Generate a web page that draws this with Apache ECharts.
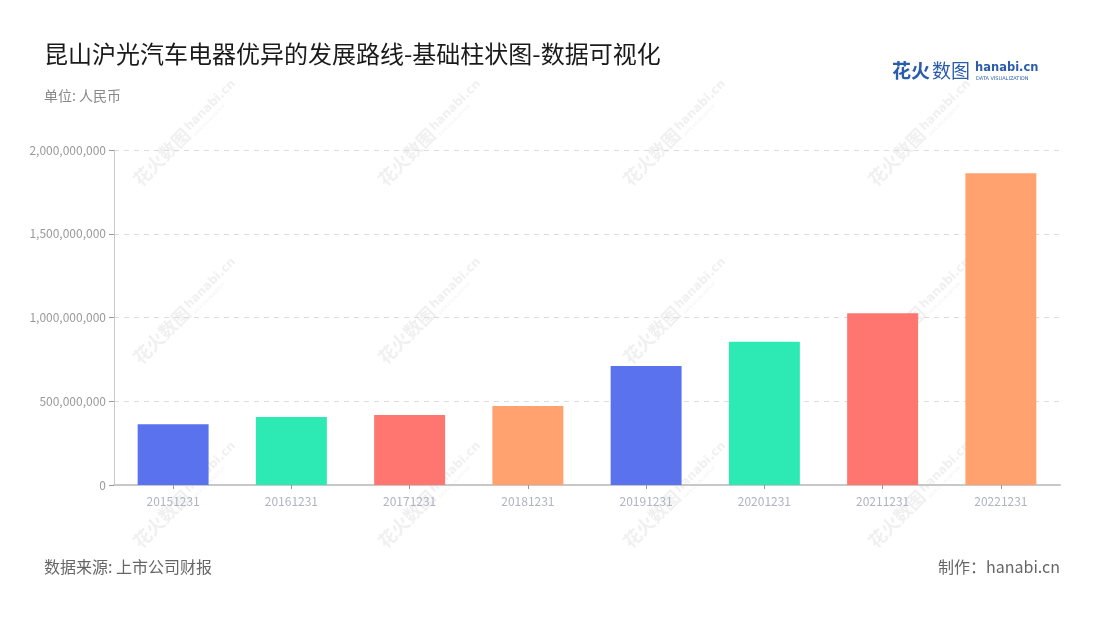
<!DOCTYPE html>
<html>
<head>
<meta charset="utf-8">
<script src="https://cdn.jsdelivr.net/npm/echarts@6/dist/echarts.min.js"></script>
<style>html,body{margin:0;padding:0;background:#fff}#c{width:1100px;height:620px}</style>
</head>
<body>
<div id="c"></div>
<script>
const categories = ['20151231','20161231','20171231','20181231','20191231','20201231','20211231','20221231'];
const values = [362000000, 406000000, 418000000, 472000000, 710000000, 855000000, 1025000000, 1861000000];
const colors = ['#5A72EE','#2DE9B3','#FF7670','#FFA26F','#5A72EE','#2DE9B3','#FF7670','#FFA26F'];

const font = '"Noto Sans CJK SC","Noto Sans",sans-serif';
const wmCols = [182, 427, 672, 917];
const wmRows = [138, 316, 500];
const wmFill = 'rgba(140,140,140,0.13)';
const watermarks = [];
wmRows.forEach(y => wmCols.forEach(x => {
  watermarks.push({
    type:'group', x:x, y:y, rotation:Math.PI/4, z:100, silent:true,
    children:[
      {type:'text', x:-64, y:-10, style:{text:'花火数图', fontSize:18, fontWeight:'bold', fill:wmFill, fontFamily:font}},
      {type:'text', x:10, y:-9, style:{text:'hanabi.cn', fontSize:12, fontWeight:'bold', fill:wmFill, fontFamily:'"DejaVu Sans",sans-serif'}},
      {type:'text', x:11, y:5, style:{text:'DATA VISUALIZATION', fontSize:4, fill:wmFill, fontFamily:'"DejaVu Sans",sans-serif'}}
    ]
  });
}));

const chart = echarts.init(document.getElementById('c'), null, {renderer:'canvas'});
chart.setOption({
  animation:false,
  textStyle:{fontFamily:font},
  title:[
    {text:'昆山沪光汽车电器优异的发展路线-基础柱状图-数据可视化', left:39, top:37,
     textStyle:{fontSize:24, fontWeight:'normal', color:'#1a1a1a', fontFamily:font}},
    {text:'单位: 人民币', left:39, top:84, textStyle:{fontSize:14, fontWeight:'normal', color:'#888', fontFamily:font}},
    {text:'数据来源: 上市公司财报', left:39, top:554, textStyle:{fontSize:16, fontWeight:'normal', color:'#666', fontFamily:font}},
    {text:'制作：hanabi.cn', right:35, top:554, textStyle:{fontSize:16, fontWeight:'normal', color:'#666', fontFamily:font}}
  ],
  graphic:[
    {type:'text', left:892, top:61, style:{text:'花火', fontSize:19, fontWeight:'bold', fill:'#2b5cab', fontFamily:font}},
    {type:'text', left:932, top:61, style:{text:'数图', fontSize:19, fontWeight:'normal', fill:'#2b5cab', fontFamily:font}},
    {type:'text', left:975, top:62, style:{text:'hanabi.cn', fontSize:11.5, fontWeight:'bold', fill:'#2b5cab', fontFamily:'"DejaVu Sans",sans-serif'}},
    {type:'text', left:976, top:76, style:{text:'DATA VISUALIZATION', fontSize:5, fill:'#2b5cab', fontFamily:'"DejaVu Sans",sans-serif'}}
  ].concat(watermarks),
  grid:{left:114, right:40, top:150, bottom:135, containLabel:false},
  xAxis:{
    type:'category', data:categories,
    axisLine:{lineStyle:{color:'#c8c8c8', width:2}},
    axisTick:{show:true, alignWithLabel:true, length:4, lineStyle:{color:'#999'}},
    axisLabel:{color:'#b0b3c0', fontSize:12, margin:10}
  },
  yAxis:{
    type:'value', min:0, max:2000000000, interval:500000000,
    axisLine:{show:true, lineStyle:{color:'#c8c8c8', width:1}},
    axisTick:{show:true, length:5, lineStyle:{color:'#999'}},
    axisLabel:{color:'#9a9a9a', fontSize:12, margin:8,
      formatter:v=>v.toLocaleString('en-US')},
    splitLine:{lineStyle:{color:'#dcdcdc', type:[5,5]}}
  },
  series:[{
    type:'bar', data:values.map((v,i)=>({value:v, itemStyle:{color:colors[i]}})),
    barWidth:'60%'
  }]
});
</script>
</body>
</html>
